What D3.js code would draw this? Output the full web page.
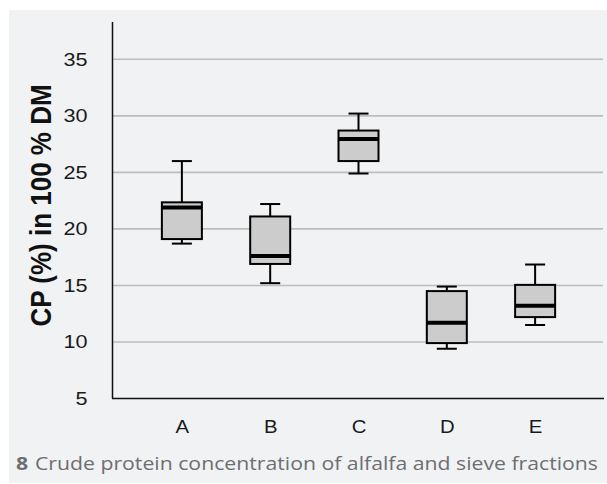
<!DOCTYPE html>
<html>
<head>
<meta charset="utf-8">
<script src="https://cdn.jsdelivr.net/npm/d3@7"></script>
<style>
html,body{margin:0;padding:0;background:#fff;}
svg{display:block;}
</style>
</head>
<body>
<svg id="chart" width="607" height="484"></svg>
<script>
const categories = ["A", "B", "C", "D", "E"];
const whiskerLow  = [18.7, 15.2, 24.9, 9.4, 11.5];
const q1          = [19.1, 16.9, 26.0, 9.9, 12.2];
const median      = [21.9, 17.6, 27.95, 11.7, 13.2];
const q3          = [22.35, 21.1, 28.7, 14.5, 15.05];
const whiskerHigh = [26.0, 22.2, 30.2, 14.9, 16.85];
const yTicks = [5, 10, 15, 20, 25, 30, 35];
const yTitle = "CP (%) in 100 % DM";
const captionNum = "8";
const captionText = "Crude protein concentration of alfalfa and sieve fractions";

const FONT = "'Liberation Sans', Arial, Helvetica, sans-serif";
const svg = d3.select("#chart");
svg.append("rect").attr("x", 9).attr("y", 10).attr("width", 598).attr("height", 473).attr("fill", "#f1f2f4");

const x = d3.scalePoint().domain(categories).range([113, 604]).padding(0.78);
const y = d3.scaleLinear().domain([5, 38.3]).range([398.5, 22]);

function stretch(sel, k) {
  sel.each(function() {
    const w = this.getComputedTextLength();
    d3.select(this).attr("textLength", w * k).attr("lengthAdjust", "spacingAndGlyphs");
  });
}

// gridlines
svg.append("g").selectAll("line").data(yTicks.filter(t => t > 5)).join("line")
  .attr("x1", 113).attr("x2", 603)
  .attr("y1", d => y(d)).attr("y2", d => y(d))
  .attr("stroke", "#bdbdbd").attr("stroke-width", 1.6);

// axes
const yAxis = d3.axisLeft(y).tickValues(yTicks).tickSize(0).tickPadding(25);
const gy = svg.append("g").attr("transform", "translate(112.5,0)").call(yAxis);
gy.select(".domain").remove();
gy.attr("font-family", null).attr("font-size", null);
gy.selectAll("text").style("font-family", FONT).style("font-size", "18px").attr("fill", "#1a1a1a");
stretch(gy.selectAll("text"), 1.2);

const xAxis = d3.axisBottom(x).tickSize(0).tickPadding(21);
const gx = svg.append("g").attr("transform", "translate(0,398.5)").call(xAxis);
gx.select(".domain").remove();
gx.attr("font-family", null).attr("font-size", null);
gx.selectAll("text").style("font-family", FONT).style("font-size", "18.5px").attr("fill", "#1a1a1a");
stretch(gx.selectAll("text"), 1.1);

svg.append("line").attr("x1", 112.5).attr("x2", 112.5).attr("y1", y.range()[1]).attr("y2", y(5))
  .attr("stroke", "#111").attr("stroke-width", 1.5);
svg.append("line").attr("x1", 112).attr("x2", 604).attr("y1", y(5)).attr("y2", y(5))
  .attr("stroke", "#111").attr("stroke-width", 1.5);

// boxes
const boxW = 40, capW = 20;
const data = categories.map((c, i) => ({c, lo: whiskerLow[i], q1: q1[i], med: median[i], q3: q3[i], hi: whiskerHigh[i]}));
const g = svg.append("g").selectAll("g").data(data).join("g");
g.append("line").attr("x1", d => x(d.c)).attr("x2", d => x(d.c)).attr("y1", d => y(d.hi)).attr("y2", d => y(d.q3)).attr("stroke", "#000").attr("stroke-width", 2);
g.append("line").attr("x1", d => x(d.c)).attr("x2", d => x(d.c)).attr("y1", d => y(d.q1)).attr("y2", d => y(d.lo)).attr("stroke", "#000").attr("stroke-width", 2);
g.append("line").attr("x1", d => x(d.c) - capW/2).attr("x2", d => x(d.c) + capW/2).attr("y1", d => y(d.hi)).attr("y2", d => y(d.hi)).attr("stroke", "#000").attr("stroke-width", 2);
g.append("line").attr("x1", d => x(d.c) - capW/2).attr("x2", d => x(d.c) + capW/2).attr("y1", d => y(d.lo)).attr("y2", d => y(d.lo)).attr("stroke", "#000").attr("stroke-width", 2);
g.append("rect").attr("x", d => x(d.c) - boxW/2).attr("width", boxW)
  .attr("y", d => y(d.q3)).attr("height", d => y(d.q1) - y(d.q3))
  .attr("fill", "#cccccc").attr("stroke", "#000").attr("stroke-width", 2);
g.append("line").attr("x1", d => x(d.c) - boxW/2).attr("x2", d => x(d.c) + boxW/2).attr("y1", d => y(d.med)).attr("y2", d => y(d.med)).attr("stroke", "#000").attr("stroke-width", 4);

// y title
svg.append("text").attr("transform", "translate(51,205.5) scale(1.15,1) rotate(-90)")
  .attr("text-anchor", "middle").style("font-family", FONT)
  .attr("font-weight", "bold").style("font-size", "26px").attr("fill", "#111").text(yTitle);

// caption
const cap = svg.append("text").attr("x", 16).attr("y", 470)
  .style("font-family", "'Open Sans', 'Noto Sans', sans-serif").style("font-size", "18.5px").attr("fill", "#6d6e71");
cap.append("tspan").attr("font-weight", "bold").text(captionNum);
cap.append("tspan").attr("dx", 6).text(captionText);
cap.attr("textLength", 582).attr("lengthAdjust", "spacingAndGlyphs");
</script>
</body>
</html>
